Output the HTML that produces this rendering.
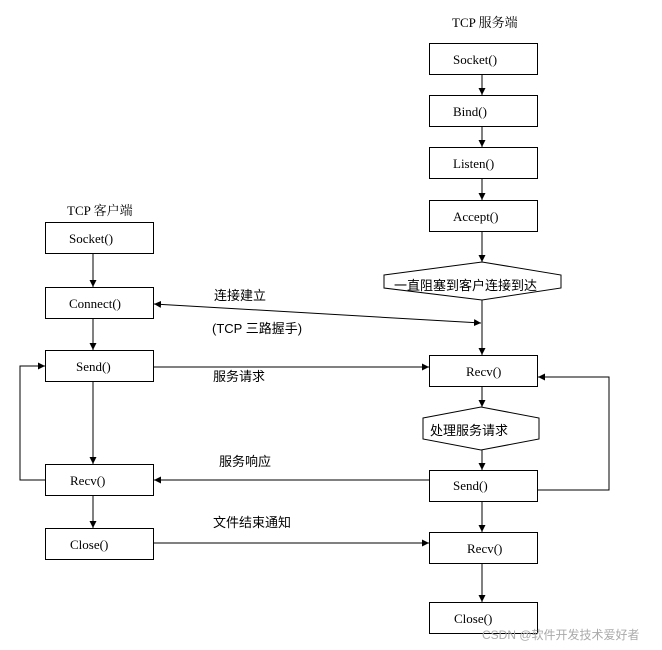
<!DOCTYPE html>
<html><head><meta charset="utf-8"><style>
html,body{margin:0;padding:0;background:#fff;}
svg{display:block}
text{font-family:"Liberation Serif","Noto Serif CJK SC","Noto Sans CJK SC",serif;font-size:13px;fill:#000}
.c{font-family:"Liberation Sans","Noto Sans CJK SC",sans-serif;font-size:13px}
</style></head><body>
<svg width="662" height="650" viewBox="0 0 662 650" xmlns="http://www.w3.org/2000/svg">
<defs><marker id="a" viewBox="0 0 10 10" refX="10" refY="5" markerWidth="7" markerHeight="7" orient="auto-start-reverse"><path d="M0,0 L10,5 L0,10 z" fill="#000"/></marker></defs>
<g fill="none" stroke="#000" stroke-width="1">
<!-- server boxes -->
<rect x="429.5" y="43.5" width="108" height="31"/>
<rect x="429.5" y="95.5" width="108" height="31"/>
<rect x="429.5" y="147.5" width="108" height="31"/>
<rect x="429.5" y="200.5" width="108" height="31"/>
<polygon points="384,275 482,262 561,275 561,288 482,300 384,288"/>
<rect x="429.5" y="355.5" width="108" height="31"/>
<polygon points="423,418 481,407 539,418 539,439 481,450 423,439"/>
<rect x="429.5" y="470.5" width="108" height="31"/>
<rect x="429.5" y="532.5" width="108" height="31"/>
<rect x="429.5" y="602.5" width="108" height="31"/>
<!-- client boxes -->
<rect x="45.5" y="222.5" width="108" height="31"/>
<rect x="45.5" y="287.5" width="108" height="31"/>
<rect x="45.5" y="350.5" width="108" height="31"/>
<rect x="45.5" y="464.5" width="108" height="31"/>
<rect x="45.5" y="528.5" width="108" height="31"/>
<!-- server vertical arrows -->
<line x1="482" y1="75" x2="482" y2="95" marker-end="url(#a)"/>
<line x1="482" y1="127" x2="482" y2="147" marker-end="url(#a)"/>
<line x1="482" y1="179" x2="482" y2="200" marker-end="url(#a)"/>
<line x1="482" y1="232" x2="482" y2="262" marker-end="url(#a)"/>
<line x1="482" y1="300" x2="482" y2="355" marker-end="url(#a)"/>
<line x1="482" y1="387" x2="482" y2="407" marker-end="url(#a)"/>
<line x1="482" y1="450" x2="482" y2="470" marker-end="url(#a)"/>
<line x1="482" y1="502" x2="482" y2="532" marker-end="url(#a)"/>
<line x1="482" y1="564" x2="482" y2="602" marker-end="url(#a)"/>
<!-- client vertical arrows -->
<line x1="93" y1="254" x2="93" y2="287" marker-end="url(#a)"/>
<line x1="93" y1="319" x2="93" y2="350" marker-end="url(#a)"/>
<line x1="93" y1="382" x2="93" y2="464" marker-end="url(#a)"/>
<line x1="93" y1="496" x2="93" y2="528" marker-end="url(#a)"/>
<!-- horizontal -->
<line x1="154" y1="304" x2="481" y2="323" marker-start="url(#a)" marker-end="url(#a)"/>
<line x1="154" y1="367" x2="429" y2="367" marker-end="url(#a)"/>
<line x1="429" y1="480" x2="154" y2="480" marker-end="url(#a)"/>
<line x1="154" y1="543" x2="429" y2="543" marker-end="url(#a)"/>
<!-- loops -->
<polyline points="45,480 20,480 20,366 45,366" marker-end="url(#a)"/>
<polyline points="538,490 609,490 609,377 538,377" marker-end="url(#a)"/>
</g>
<text x="452" y="27">TCP 服务端</text>
<text x="67" y="215">TCP 客户端</text>
<text x="453" y="64">Socket()</text>
<text x="453" y="116">Bind()</text>
<text x="453" y="168">Listen()</text>
<text x="453" y="221">Accept()</text>
<text class="c" x="394" y="290">一直阻塞到客户连接到达</text>
<text x="466" y="376">Recv()</text>
<text class="c" x="430" y="435">处理服务请求</text>
<text x="453" y="490">Send()</text>
<text x="467" y="553">Recv()</text>
<text x="454" y="623">Close()</text>
<text x="69" y="243">Socket()</text>
<text x="69" y="308">Connect()</text>
<text x="76" y="371">Send()</text>
<text x="70" y="485">Recv()</text>
<text x="70" y="549">Close()</text>
<text class="c" x="214" y="300">连接建立</text>
<text class="c" x="212" y="333">(TCP 三路握手)</text>
<text class="c" x="213" y="381">服务请求</text>
<text class="c" x="219" y="466">服务响应</text>
<text class="c" x="213" y="527">文件结束通知</text>
<text class="c" x="482" y="639" style="fill:#aaa;font-size:12px">CSDN @软件开发技术爱好者</text>
</svg>
</body></html>
